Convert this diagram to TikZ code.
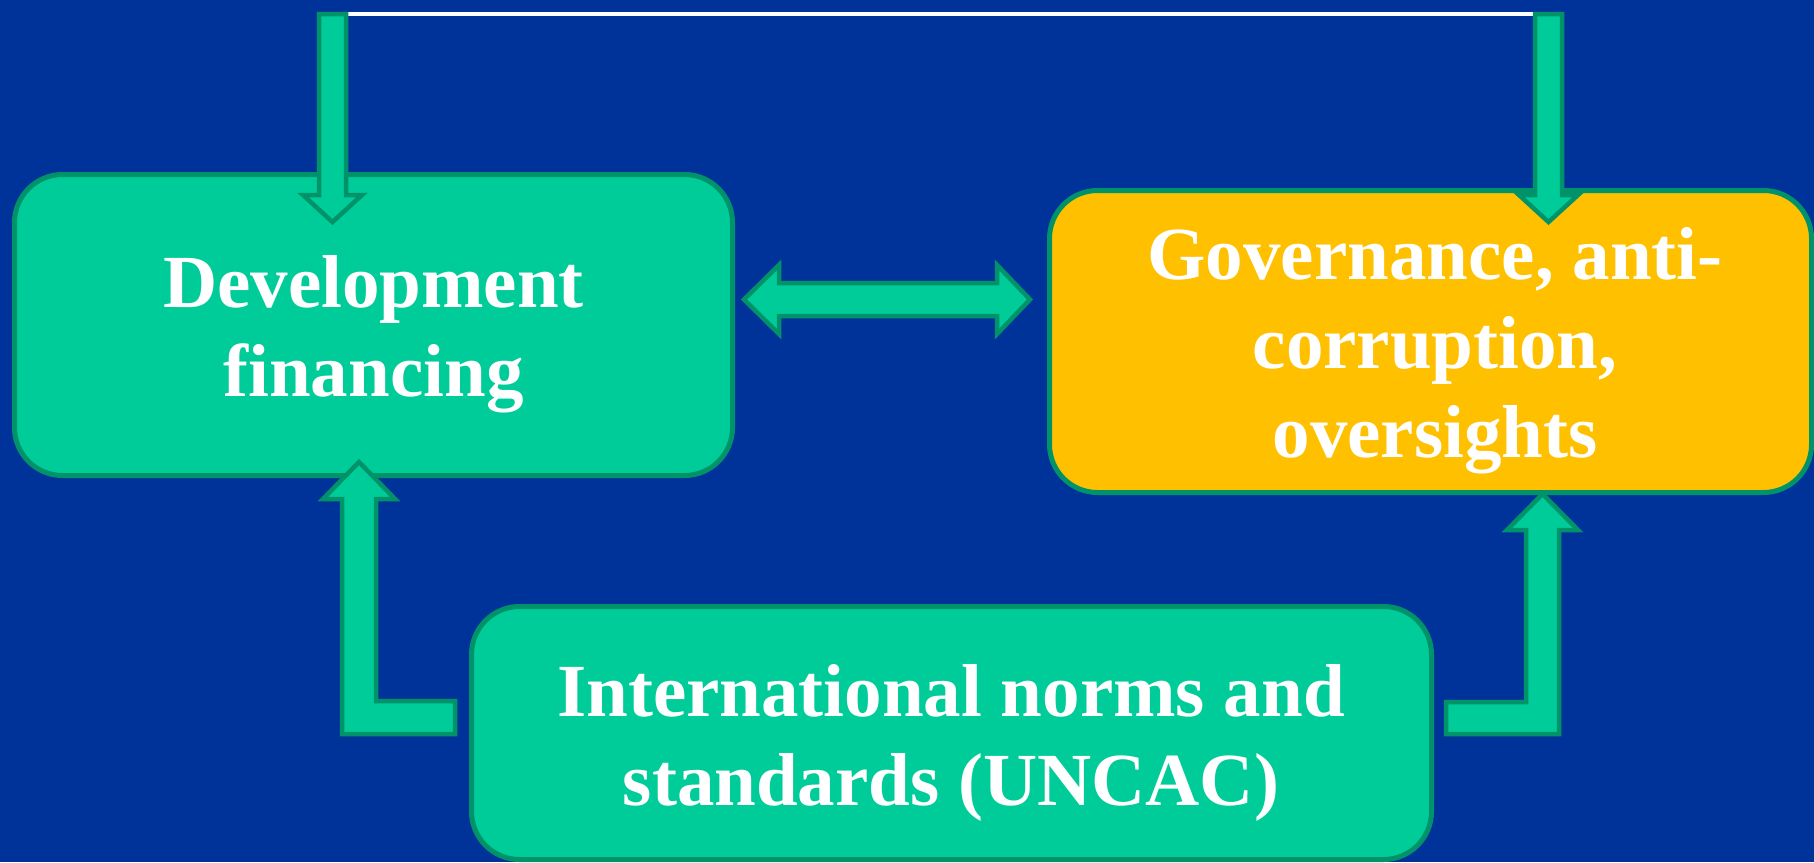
\documentclass[tikz,border=0pt]{standalone}
\usepackage{fontspec}
\setmainfont{Liberation Serif}
\definecolor{bg}{HTML}{003399}
\definecolor{boxgreen}{HTML}{00CC99}
\definecolor{edgegreen}{HTML}{00936A}
\definecolor{boxyellow}{HTML}{FFC000}
\tikzset{
  panel/.style={draw=edgegreen, line width=5pt, rounded corners=48pt, fill=boxgreen, inner sep=0pt},
  paneltext/.style={text=white, font=\bfseries\fontsize{75}{89}\selectfont, align=center, inner sep=0pt},
  blockarrow/.style={fill=boxgreen, draw=edgegreen, line width=4.5pt, line join=miter},
}
\begin{document}
\begin{tikzpicture}[x=1pt,y=-1pt]
\fill[bg] (0,0) rectangle (1814,862);
\useasboundingbox (0,0) rectangle (1814,862);
% boxes
\node[panel, minimum width=718pt, minimum height=301pt] (dev) at (373.5,325) {};
\node[panel, fill=boxyellow, minimum width=762pt, minimum height=302pt] (gov) at (1430.5,341.5) {};
\node[panel, minimum width=960pt, minimum height=253pt] (intl) at (951.5,733) {};
\node[paneltext] (devtext) at (373.5,334) {Development\\financing};
\node[paneltext] (govtext) at (1435,351) {Governance, anti-\\corruption,\\oversights};
\node[paneltext] (intltext) at (951,742.5) {International norms and\\standards (UNCAC)};
% white top line
\coordinate (tl) at (346,14);
\coordinate (tr) at (1535,14);
\draw[white, line width=4pt] (tl) -- (tr);
% top-left down arrow
\draw[blockarrow] (319,14) -- (346,14) -- (346,195) -- (362,195) -- (332.5,222) -- (303,195) -- (319,195) -- cycle;
% top-right down arrow
\draw[blockarrow] (1535,14) -- (1562,14) -- (1562,195) -- (1578,195) -- (1548.5,222) -- (1519,195) -- (1535,195) -- cycle;
% double arrow
\draw[blockarrow] (744,299.5) -- (779,265) -- (779,283) -- (997,283) -- (997,265) -- (1030,299.5) -- (997,334) -- (997,316) -- (779,316) -- (779,334) -- cycle;
% bottom-left L arrow
\draw[blockarrow] (455,701) -- (376,701) -- (376,499) -- (395,499) -- (359,462) -- (323,499) -- (342,499) -- (342,734) -- (455,734) -- cycle;
% bottom-right L arrow
\draw[blockarrow] (1446,702) -- (1526,702) -- (1526,530) -- (1507,530) -- (1542.5,494) -- (1578,530) -- (1559,530) -- (1559,734) -- (1446,734) -- cycle;
\end{tikzpicture}
\end{document}
